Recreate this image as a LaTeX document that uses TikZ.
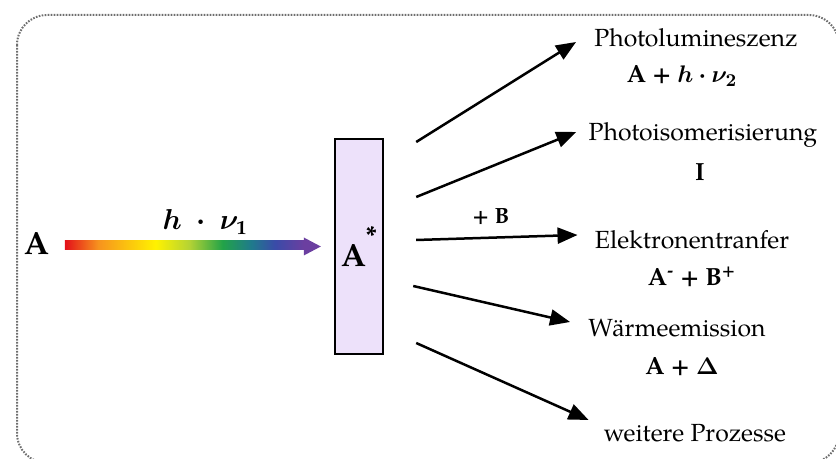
\documentclass[tikz,border=0pt]{standalone}
\usepackage{amsmath}
\usepackage{bm}
\usepackage{fontspec}
\setmainfont{TeX Gyre Pagella}
\usepackage{xcolor}
\usetikzlibrary{arrows.meta,calc,positioning}

\definecolor{boxfill}{HTML}{EDE1FA}
\definecolor{framegray}{HTML}{6E6E6E}
\definecolor{rbred}{HTML}{E3101A}
\definecolor{rborange}{HTML}{F7931E}
\definecolor{rbyellow}{HTML}{FFF200}
\definecolor{rblime}{HTML}{B5D334}
\definecolor{rbgreen}{HTML}{22A348}
\definecolor{rbteal}{HTML}{1F7A8C}
\definecolor{rbblue}{HTML}{3A4BA8}
\definecolor{rbviolet}{HTML}{6B3FA0}

\pgfdeclarehorizontalshading{rainbow}{100bp}{color(0bp)=(rbred); color(25bp)=(rbred);
  color(32bp)=(rborange); color(44bp)=(rbyellow); color(51bp)=(rblime);
  color(58bp)=(rbgreen); color(64bp)=(rbteal); color(69bp)=(rbblue);
  color(75bp)=(rbviolet); color(100bp)=(rbviolet)}

\begin{document}
\begin{tikzpicture}[
    x=0.5pt, y=-0.5pt,
    every node/.style={align=center, inner sep=0pt},
    proc/.style={font=\fontsize{12.4}{15}\selectfont},
    prod/.style={font=\fontsize{12.4}{15}\selectfont\bfseries},
    big/.style={font=\fontsize{16}{19}\selectfont\bfseries},
    state/.style={
        rectangle,
        draw=black,
        line width=1.2pt,
        fill=boxfill,
        minimum width=24pt,
        minimum height=107.5pt
    },
    arr/.style={-{Triangle[length=10pt,width=8pt]}, line width=1.25pt},
    frame/.style={draw=framegray, line width=1pt, dash pattern=on 0.8pt off 0.7pt,
        rounded corners=15pt},
]
\useasboundingbox (0,0) rectangle (836,459);
\clip (0,0) rectangle (836,459);

% Frame
\draw[frame] (17,15) rectangle (839,463);

% Ground and excited state
\node[big] (a) at (37,244) {A};
\node[state, big] (astar) at (359,246.5) {A\raisebox{1.5ex}{\fontsize{13}{15}\selectfont *}};

% Excitation
\shade[shading=rainbow] ($(a.east)+(15,-3)$) rectangle ($(astar.west)+(-30,3)$);
\fill[rbviolet] ($(astar.west)+(-30,-9)$) -- ($(astar.west)+(-13,0)$)
    -- ($(astar.west)+(-30,9)$) -- cycle;
\node[font=\fontsize{14}{16}\selectfont] (hnu) at (205,222)
    {$\bm{h}\;\bm{\cdot}\;\bm{\nu}_{\mathbf{1}}$};

% Processes
\node[proc] (pl) at (696,38) {Photolumineszenz};
\node[prod] (plf) at (682,76) {A + $\bm{h\cdot\nu_2}$};

\node[proc] (pi) at (703,135) {Photoisomerisierung};
\node[prod] (pif) at (700,172) {I};

\node[proc] (et) at (692,240) {Elektronentranfer};
\node[prod] (etf) at (692,277) {A\textsuperscript{-} + B\textsuperscript{+}};

\node[proc] (wm) at (677,328) {Wärmeemission};
\node[prod] (wmf) at (682,367) {A + $\bm{\Delta}$};

\node[proc] (wp) at (695,433) {weitere Prozesse};

% Connections
\draw[arr] ($(astar.east)+(32,-104.5)$) -- ($(pl.west)+(-18,4)$);
\draw[arr] ($(astar.east)+(32,-49.5)$) -- ($(pi.west)+(-12,-3)$);
\draw[arr] ($(astar.east)+(32,-6.5)$) -- ($(et.west)+(-17,-5)$)
    node[midway, above=6pt, font=\fontsize{11}{13}\selectfont\bfseries, xshift=-3pt] (plusb) {+ B};
\draw[arr] ($(astar.east)+(29,39.5)$) -- ($(wm.west)+(-18,-6)$);
\draw[arr] ($(astar.east)+(32,96.5)$) -- ($(wp.west)+(-15,-13)$);

\end{tikzpicture}
\end{document}
